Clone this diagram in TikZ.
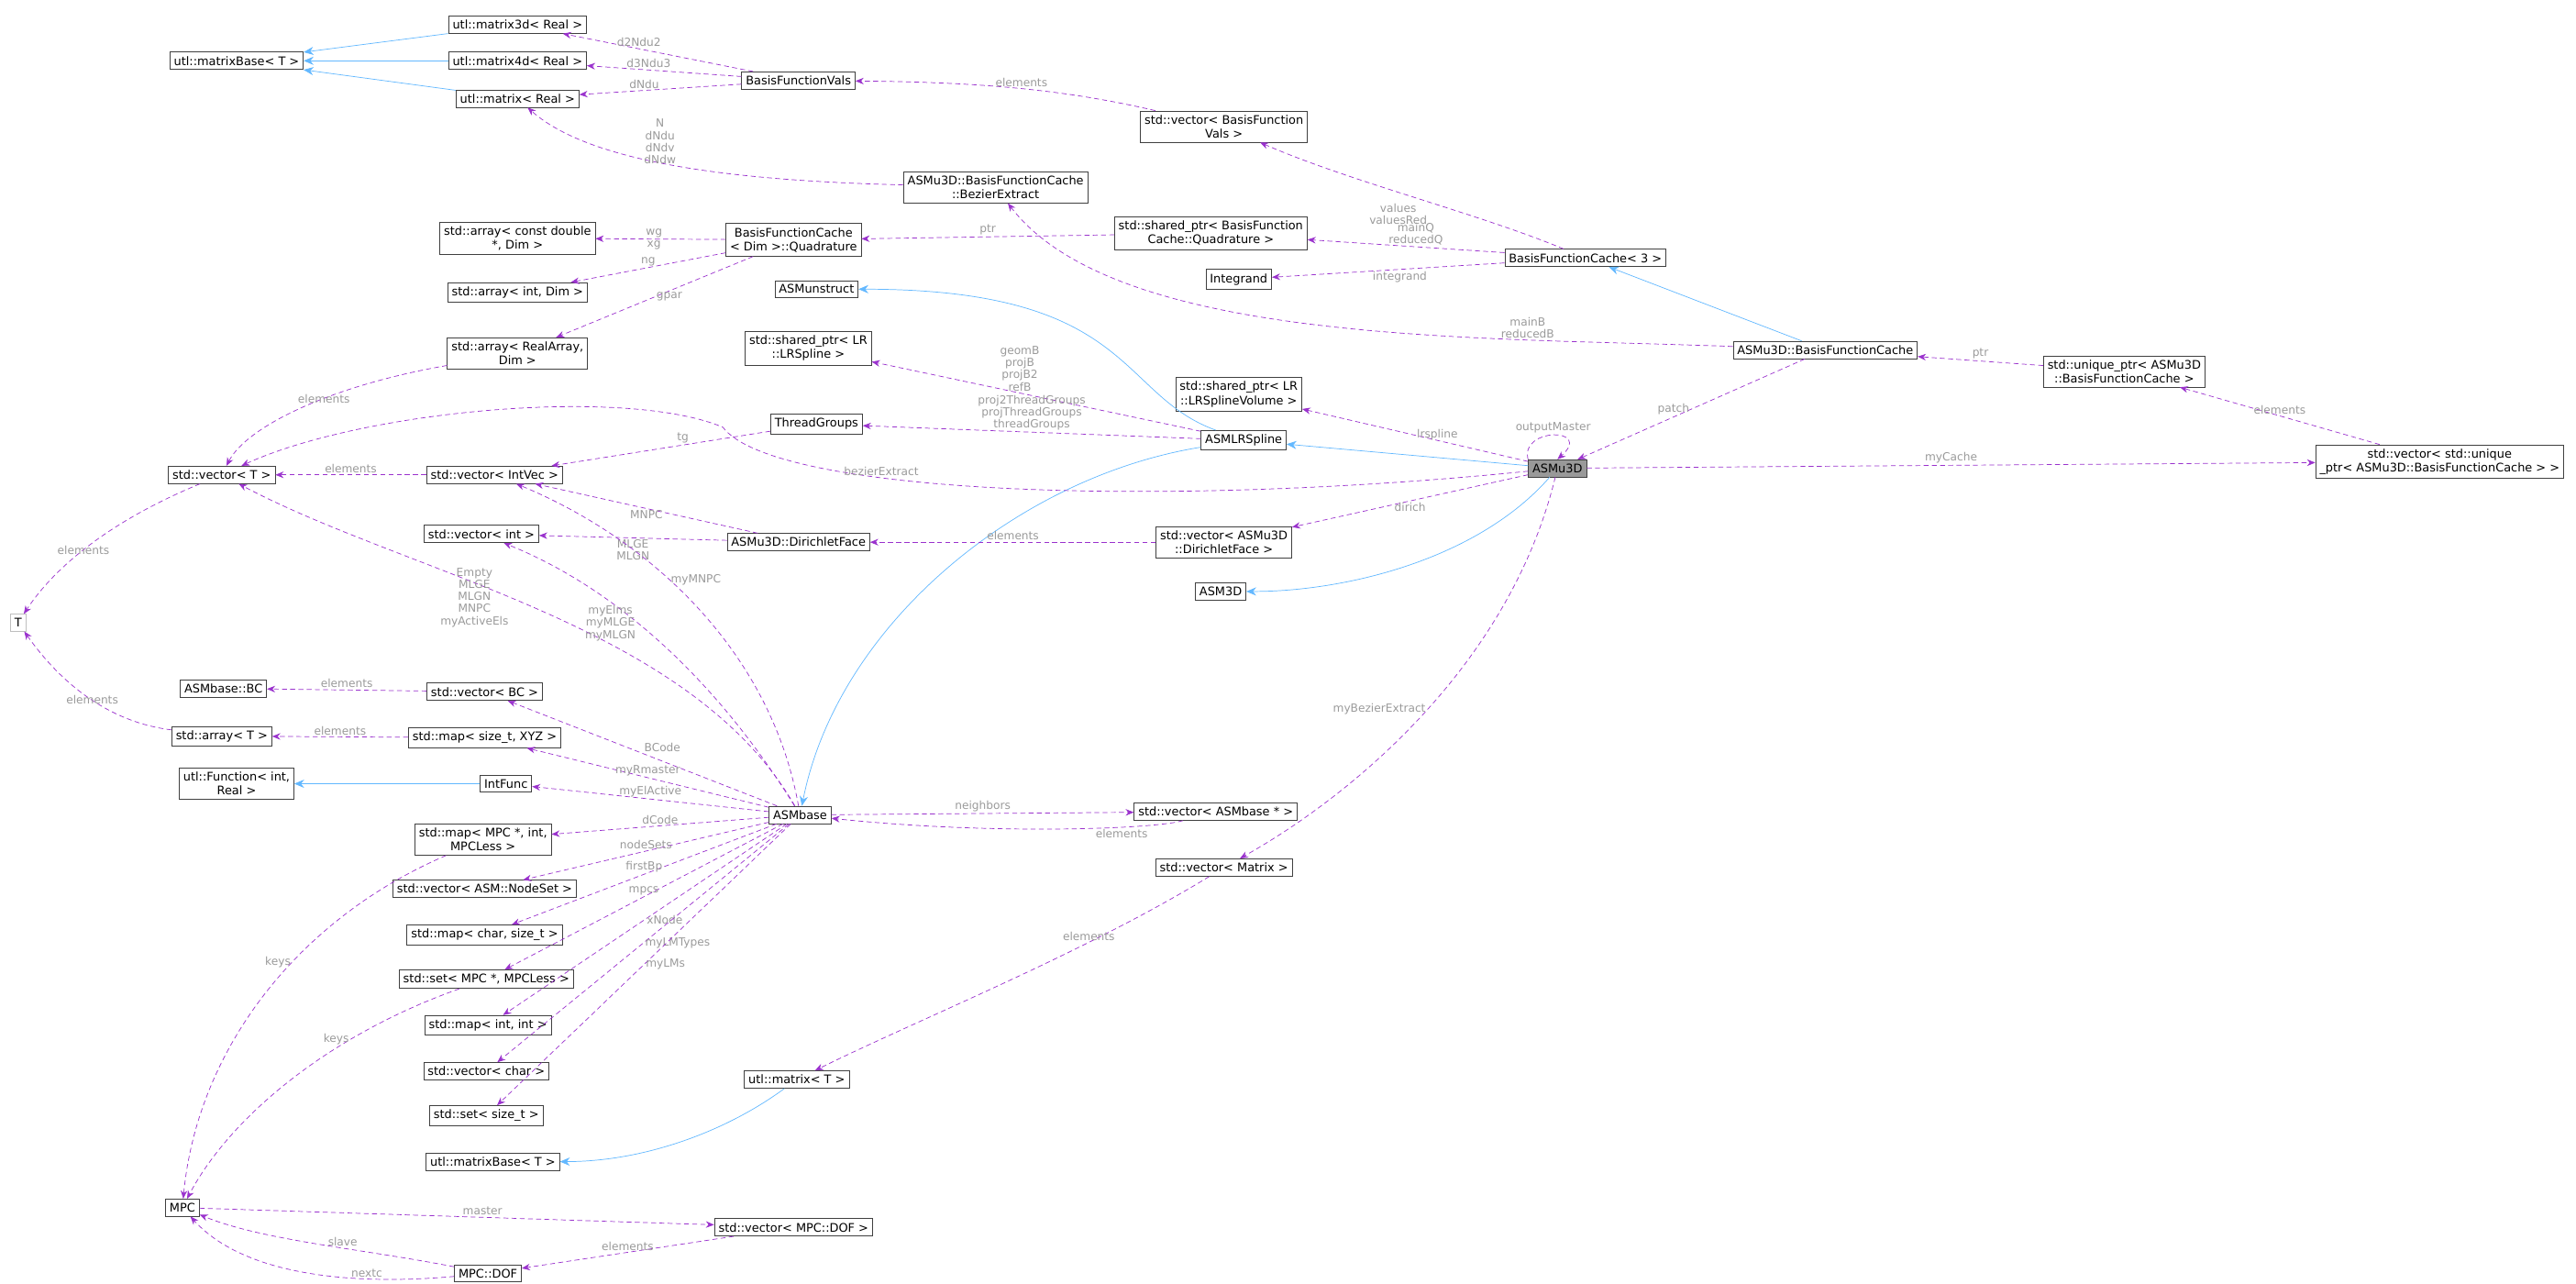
\documentclass[tikz,border=0pt]{standalone}
\usepackage{fontspec}
\setmainfont{DejaVu Sans}
\usetikzlibrary{arrows.meta}
\definecolor{purp}{HTML}{9A32CD}
\definecolor{inher}{HTML}{63B8FF}
\definecolor{lbl}{HTML}{9A9A9A}
\tikzset{
  cls/.style={draw=black!75, fill=white, inner sep=2.5pt, align=center, font=\fontsize{7.2}{8.4}\selectfont},
  use/.style={purp, dashed, dash pattern=on 3pt off 2pt, -{Stealth[length=5pt,width=4pt]}},
  isa/.style={inher, -{Stealth[length=6pt,width=5pt]}},
  lab/.style={lbl, font=\fontsize{6.8}{7.4}\selectfont, align=center, inner sep=1pt}
}
\begin{document}
\begin{tikzpicture}[x=1pt,y=-1pt]
\useasboundingbox (0,0) rectangle (1568,781);
% classes
\node[cls] (m3d) at (315,15) {utl::matrix3d< Real >};
\node[cls] (mbase) at (144,37) {utl::matrixBase< T >};
\node[cls] (m4d) at (315,37) {utl::matrix4d< Real >};
\node[cls] (mreal) at (315,60) {utl::matrix< Real >};
\node[cls] (bfv) at (486,49) {BasisFunctionVals};
\node[cls] (vbfv) at (745,77) {std::vector< BasisFunction\\Vals >};
\node[cls] (bez) at (606,114) {ASMu3D::BasisFunctionCache\\::BezierExtract};
\node[cls] (acd) at (315,145) {std::array< const double\\*, Dim >};
\node[cls] (quad) at (483,146) {BasisFunctionCache\\< Dim >::Quadrature};
\node[cls] (spq) at (737,142) {std::shared\_ptr< BasisFunction\\Cache::Quadrature >};
\node[cls] (bfc3) at (965,157) {BasisFunctionCache< 3 >};
\node[cls] (aid) at (315,178) {std::array< int, Dim >};
\node[cls] (integ) at (754,170) {Integrand};
\node[cls] (unstr) at (497,176) {ASMunstruct};
\node[cls] (splr) at (492,212) {std::shared\_ptr< LR\\::LRSpline >};
\node[cls] (ara) at (315,215) {std::array< RealArray,\\Dim >};
\node[cls] (abfc) at (1111,213) {ASMu3D::BasisFunctionCache};
\node[cls] (uptr) at (1293,226) {std::unique\_ptr< ASMu3D\\::BasisFunctionCache >};
\node[cls] (splv) at (754,240) {std::shared\_ptr< LR\\::LRSplineVolume >};
\node[cls] (tgrp) at (497,258) {ThreadGroups};
\node[cls] (vuptr) at (1485,281) {std::vector< std::unique\\\_ptr< ASMu3D::BasisFunctionCache > >};
\node[cls] (lrs) at (757,268) {ASMLRSpline};
\node[cls, fill=black!40] (u3d) at (948,285) {ASMu3D};
\node[cls] (vt) at (135,289) {std::vector< T >};
\node[cls] (viv) at (301,289) {std::vector< IntVec >};
\node[cls] (dface) at (486,330) {ASMu3D::DirichletFace};
\node[cls] (vdf) at (745,330) {std::vector< ASMu3D\\::DirichletFace >};
\node[cls] (vint) at (293,325) {std::vector< int >};
\node[cls] (a3d) at (743,360) {ASM3D};
\node[cls, draw=black!25] (t) at (11,379) {T};
\node[cls] (bc) at (136,419) {ASMbase::BC};
\node[cls] (vbc) at (295,421) {std::vector< BC >};
\node[cls] (at) at (135,448) {std::array< T >};
\node[cls] (mxyz) at (295,449) {std::map< size\_t, XYZ >};
\node[cls] (fun) at (144,477) {utl::Function< int,\\Real >};
\node[cls] (ifun) at (308,477) {IntFunc};
\node[cls] (base) at (487,496) {ASMbase};
\node[cls] (vbase) at (740,494) {std::vector< ASMbase * >};
\node[cls] (mmpc) at (294,511) {std::map< MPC *, int,\\MPCLess >};
\node[cls] (vmat) at (745,528) {std::vector< Matrix >};
\node[cls] (vns) at (295,541) {std::vector< ASM::NodeSet >};
\node[cls] (mcs) at (295,569) {std::map< char, size\_t >};
\node[cls] (smpc) at (296,596) {std::set< MPC *, MPCLess >};
\node[cls] (mii) at (297,624) {std::map< int, int >};
\node[cls] (vch) at (296,652) {std::vector< char >};
\node[cls] (mt) at (485,657) {utl::matrix< T >};
\node[cls] (sst) at (296,679) {std::set< size\_t >};
\node[cls] (mbase2) at (300,707) {utl::matrixBase< T >};
\node[cls] (mpc) at (111,735) {MPC};
\node[cls] (vdof) at (483,747) {std::vector< MPC::DOF >};
\node[cls] (dof) at (297,775) {MPC::DOF};
% inheritance
\draw[isa] (m3d) -- (mbase);
\draw[isa] (m4d) -- (mbase);
\draw[isa] (mreal) -- (mbase);
\draw[isa] (abfc) -- (bfc3);
\draw[isa] (lrs) .. controls (680,240) and (690,176) .. (unstr);
\draw[isa] (u3d) -- (lrs);
\draw[isa] (u3d) .. controls (900,340) and (820,360) .. (a3d);
\draw[isa] (lrs) .. controls (620,290) and (510,380) .. (base);
\draw[isa] (ifun) -- (fun);
\draw[isa] (mt) .. controls (440,690) and (390,707) .. (mbase2);
% usage
\draw[use] (bfv) -- node[lab, above, pos=0.6] {d2Ndu2} (m3d);
\draw[use] (bfv) -- node[lab, above, pos=0.6] {d3Ndu3} (m4d);
\draw[use] (bfv) -- node[lab, above, pos=0.6] {dNdu} (mreal);
\draw[use] (bez) .. controls (450,110) and (360,100) .. node[lab, pos=0.5, above left] {N\\dNdu\\dNdv\\dNdw} (mreal);
\draw[use] (vbfv) .. controls (650,55) and (600,50) .. node[lab, pos=0.5, above] {elements} (bfv);
\draw[use] (bfc3) .. controls (900,130) and (820,110) .. node[lab, pos=0.45, below left] {values\\valuesRed} (vbfv);
\draw[use] (bfc3) -- node[lab, pos=0.45, above] {mainQ\\reducedQ} (spq);
\draw[use] (bfc3) -- node[lab, below, pos=0.45] {integrand} (integ);
\draw[use] (spq) -- node[lab, above, pos=0.5] {ptr} (quad);
\draw[use] (quad) -- node[lab, pos=0.55] {wg\\xg} (acd);
\draw[use] (quad) -- node[lab, above, pos=0.5] {ng} (aid);
\draw[use] (quad) -- node[lab, pos=0.5, right] {gpar} (ara);
\draw[use] (ara) .. controls (200,235) and (150,260) .. node[lab, pos=0.4] {elements} (vt);
\draw[use] (abfc) .. controls (900,205) and (680,210) .. node[lab, pos=0.25, above] {mainB\\reducedB} (bez);
\draw[use] (uptr) -- node[lab, above] {ptr} (abfc);
\draw[use] (vuptr) -- node[lab, above] {elements} (uptr);
\draw[use] (abfc) -- node[lab, pos=0.5, left] {patch} (u3d);
\draw[use] (u3d) -- node[lab, above, pos=0.5] {myCache} (vuptr);
\draw[use] (u3d.north west) .. controls (925,260) and (970,260) .. node[lab, above] {outputMaster} (u3d.north);
\draw[use] (u3d) -- node[lab, pos=0.5, right] {lrspline} (splv);
\draw[use] (lrs) -- node[lab, pos=0.55, above] {geomB\\projB\\projB2\\refB} (splr);
\draw[use] (lrs) -- node[lab, pos=0.5, above] {proj2ThreadGroups\\projThreadGroups\\threadGroups} (tgrp);
\draw[use] (tgrp) -- node[lab, above, pos=0.4] {tg} (viv);
\draw[use] (viv) -- node[lab, above] {elements} (vt);
\draw[use] (u3d) .. controls (700,310) and (470,300) .. node[lab, pos=0.65, above] {bezierExtract} (440,260) .. controls (380,235) and (220,250) .. (vt);
\draw[use] (u3d) -- node[lab, pos=0.5, below] {dirich} (vdf);
\draw[use] (vdf) -- node[lab, above] {elements} (dface);
\draw[use] (dface) -- node[lab, pos=0.5, below] {MNPC} (viv);
\draw[use] (dface) -- node[lab, pos=0.5, below] {MLGE\\MLGN} (vint);
\draw[use] (vt) .. controls (60,320) and (30,350) .. node[lab, pos=0.5] {elements} (t);
\draw[use] (base) .. controls (420,380) and (250,350) .. node[lab, pos=0.55, left] {Empty\\MLGE\\MLGN\\MNPC\\myActiveEls} (vt);
\draw[use] (base) .. controls (470,400) and (400,330) .. node[lab, pos=0.6, right] {myMNPC} (viv);
\draw[use] (base) .. controls (440,420) and (380,360) .. node[lab, pos=0.6, left] {myElms\\myMLGE\\myMLGN} (vint);
\draw[use] (vbc) -- node[lab, above] {elements} (bc);
\draw[use] (at) .. controls (70,440) and (40,420) .. node[lab, pos=0.5] {elements} (t);
\draw[use] (mxyz) -- node[lab, above] {elements} (at);
\draw[use] (base) -- node[lab, pos=0.5, above right] {BCode} (vbc);
\draw[use] (base) -- node[lab, pos=0.5, above] {myRmaster} (mxyz);
\draw[use] (base) -- node[lab, pos=0.5, above] {myElActive} (ifun);
\draw[use] (base) -- node[lab, pos=0.5, above] {dCode} (mmpc);
\draw[use] (base) -- node[lab, pos=0.5, above] {nodeSets} (vns);
\draw[use] (base) -- node[lab, pos=0.5, above] {firstBp} (mcs);
\draw[use] (base) -- node[lab, pos=0.5, above] {mpcs} (smpc);
\draw[use] (base) -- node[lab, pos=0.5, right] {xNode} (mii);
\draw[use] (base) -- node[lab, pos=0.5, right] {myLMTypes} (vch);
\draw[use] (base) -- node[lab, pos=0.5, right] {myLMs} (sst);
\draw[use] (base) -- node[lab, above] {neighbors} (vbase);
\draw[use] (vbase) .. controls (700,505) and (600,508) .. node[lab, pos=0.3, below] {elements} (base);
\draw[use] (u3d) .. controls (920,400) and (830,480) .. node[lab, pos=0.5, left] {myBezierExtract} (vmat);
\draw[use] (vmat) .. controls (660,580) and (560,620) .. node[lab, pos=0.3, above] {elements} (mt);
\draw[use] (mmpc) .. controls (180,560) and (120,640) .. node[lab, pos=0.4, left] {keys} (mpc);
\draw[use] (smpc) .. controls (200,630) and (140,680) .. node[lab, pos=0.3, left] {keys} (mpc);
\draw[use] (mpc) -- node[lab, above, pos=0.55] {master} (vdof);
\draw[use] (vdof) -- node[lab, above] {elements} (dof);
\draw[use] (dof) .. controls (220,760) and (160,755) .. node[lab, above, pos=0.4] {slave} (mpc);
\draw[use] (dof) .. controls (220,782) and (150,778) .. node[lab, above, pos=0.3] {nextc} (mpc);
\end{tikzpicture}
\end{document}
